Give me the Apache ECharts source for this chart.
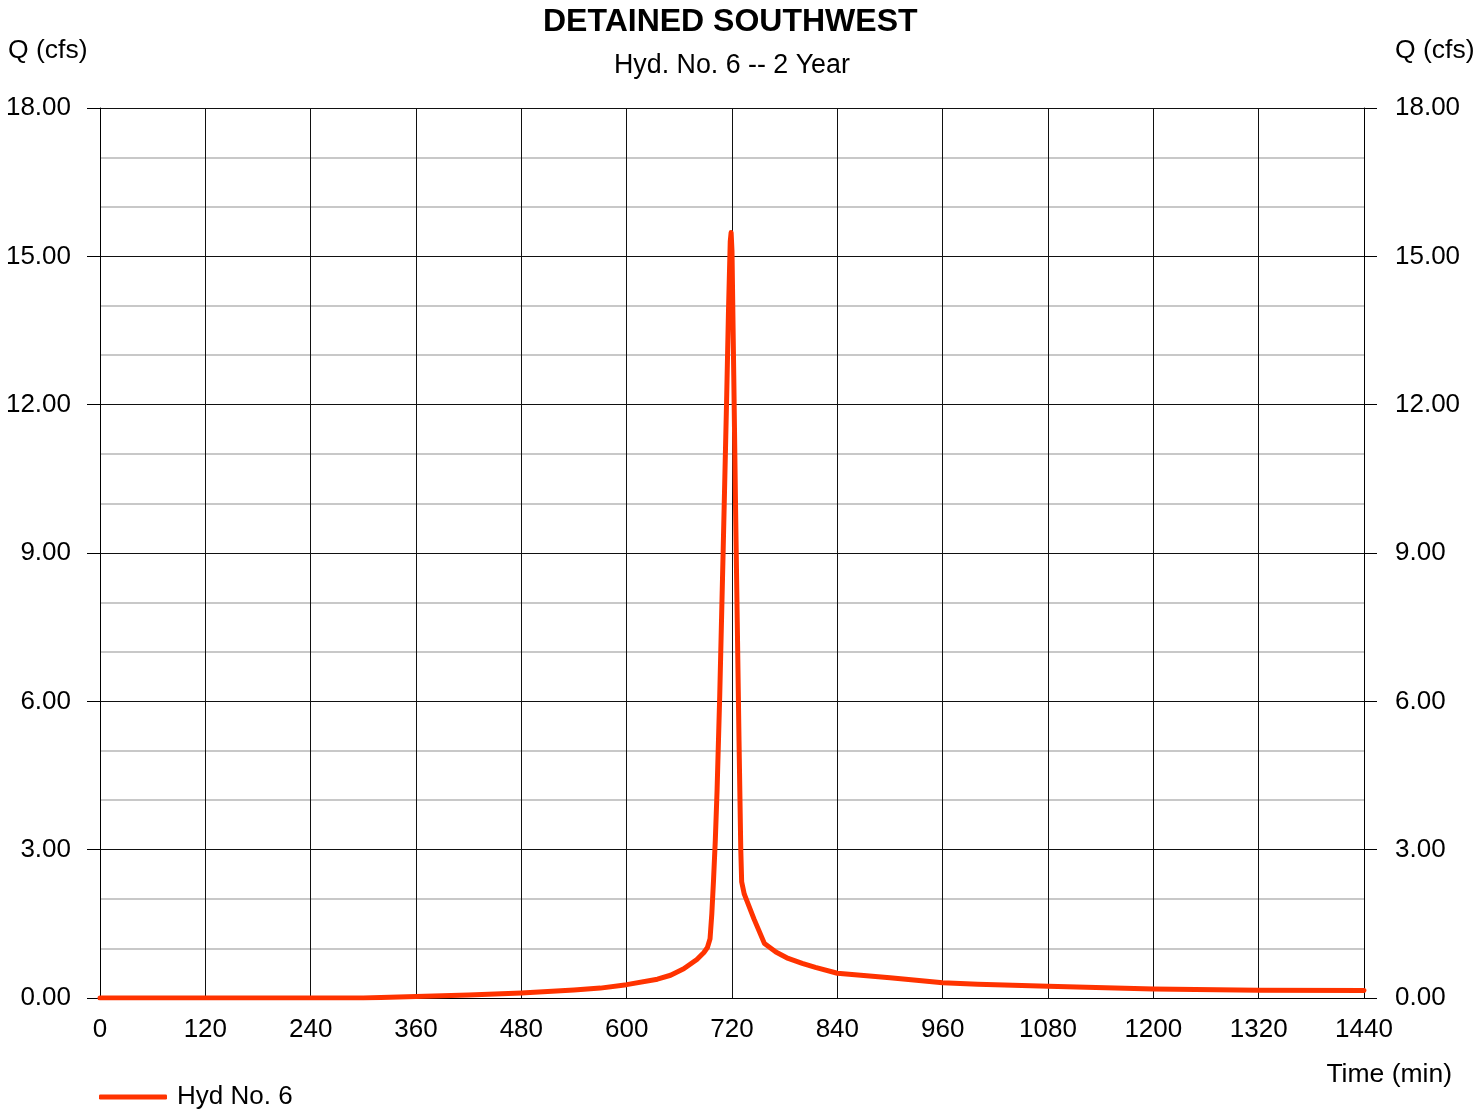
<!DOCTYPE html>
<html>
<head>
<meta charset="utf-8">
<script src="https://cdn.jsdelivr.net/npm/echarts@6/dist/echarts.min.js"></script>
<style>
html,body{margin:0;padding:0;background:#fff;}
#chart{width:1473px;height:1114px;}
</style>
</head>
<body>
<div id="chart"></div>
<script>
var titleText = 'DETAINED SOUTHWEST';
var subtitleText = 'Hyd. No. 6 -- 2 Year';
var yAxisName = 'Q (cfs)';
var xAxisName = 'Time (min)';
var seriesName = 'Hyd No. 6';

var timeMin = [0, 120, 240, 300, 360, 420, 480, 540, 570, 600, 635, 650, 665, 680, 688, 692, 695, 697, 699, 701, 703, 706, 710, 714, 716, 718, 719, 720, 722, 724, 726, 728, 730, 731, 734, 745, 757, 770, 784, 800, 815, 840, 900, 960, 1000, 1080, 1200, 1320, 1440];
var flowCfs = [0, 0, 0, 0, 0.03, 0.06, 0.10, 0.16, 0.20, 0.27, 0.38, 0.46, 0.59, 0.78, 0.92, 1.02, 1.2, 1.7, 2.4, 3.2, 4.2, 6.1, 9.1, 12.2, 13.9, 15.3, 15.48, 15.1, 12.6, 10.0, 7.6, 5.2, 3.0, 2.35, 2.1, 1.6, 1.1, 0.93, 0.8, 0.70, 0.62, 0.50, 0.41, 0.31, 0.28, 0.24, 0.18, 0.155, 0.15];

var xTicks = [0, 120, 240, 360, 480, 600, 720, 840, 960, 1080, 1200, 1320, 1440];
var yTicks = [0, 3, 6, 9, 12, 15, 18];

var seriesData = timeMin.map(function (t, i) { return [t, flowCfs[i]]; });

var FONT = '"Liberation Sans", Arial, sans-serif';
var chart = echarts.init(document.getElementById('chart'));

var yAxisCommon = {
  type: 'value',
  min: yTicks[0],
  max: yTicks[yTicks.length - 1],
  interval: yTicks[1] - yTicks[0],
  axisLine: { show: true, lineStyle: { color: '#000', width: 1 } },
  axisTick: { show: true, inside: false, length: 13, lineStyle: { color: '#000', width: 1 } },
  axisLabel: {
    fontFamily: FONT, fontSize: 26, color: '#000', padding: [4, 0, 0, 0],
    formatter: function (v) { return v.toFixed(2); }
  }
};

chart.setOption({
  animation: false,
  backgroundColor: '#fff',
  textStyle: { fontFamily: FONT },
  grid: { left: 100, right: 109, top: 108, bottom: 116, containLabel: false },
  title: [
    { text: titleText, left: 538, top: 1,
      textStyle: { fontFamily: FONT, fontSize: 32, fontWeight: 'bold', color: '#000' } },
    { text: subtitleText, left: 609, top: 47,
      textStyle: { fontFamily: FONT, fontSize: 26.8, fontWeight: 'normal', color: '#000' } }
  ],
  legend: {
    show: true,
    left: 94,
    top: 1079,
    icon: 'roundRect',
    itemWidth: 68,
    itemHeight: 5,
    textStyle: { fontFamily: FONT, fontSize: 26, color: '#000', padding: [0, 0, 0, 5] },
    data: [seriesName]
  },
  xAxis: {
    type: 'value',
    min: xTicks[0],
    max: xTicks[xTicks.length - 1],
    interval: xTicks[1] - xTicks[0],
    axisLine: { show: true, lineStyle: { color: '#000', width: 1 } },
    axisTick: { show: false },
    axisLabel: { fontFamily: FONT, fontSize: 26, color: '#000', margin: 19,
      formatter: function (v) { return String(v); } },
    splitLine: { show: true, lineStyle: { color: '#111', width: 1 } }
  },
  yAxis: [
    Object.assign({}, yAxisCommon, {
      position: 'left',
      axisLabel: Object.assign({}, yAxisCommon.axisLabel, { margin: 29 }),
      splitLine: { show: true, lineStyle: { color: '#111', width: 1 } },
      minorTick: { show: false, splitNumber: 3 },
      minorSplitLine: { show: true, lineStyle: { color: '#c8c8c8', width: 2 } }
    }),
    Object.assign({}, yAxisCommon, {
      position: 'right',
      axisLabel: Object.assign({}, yAxisCommon.axisLabel, { margin: 31 }),
      splitLine: { show: false }
    })
  ],
  graphic: [
    { type: 'text', left: 8, top: 37, style: { text: yAxisName, font: '26.5px ' + FONT, fill: '#000' } },
    { type: 'text', left: 1395, top: 37, style: { text: yAxisName, font: '26.5px ' + FONT, fill: '#000' } },
    { type: 'text', right: 21, top: 1061, style: { text: xAxisName, font: '26.5px ' + FONT, fill: '#000' } }
  ],
  series: [{
    name: seriesName,
    type: 'line',
    data: seriesData,
    xAxisIndex: 0,
    yAxisIndex: 0,
    showSymbol: false,
    symbol: 'none',
    smooth: false,
    lineStyle: { color: '#ff3300', width: 5, cap: 'round', join: 'round' },
    itemStyle: { color: '#ff3300' },
    z: 5
  }]
});
</script>
</body>
</html>
